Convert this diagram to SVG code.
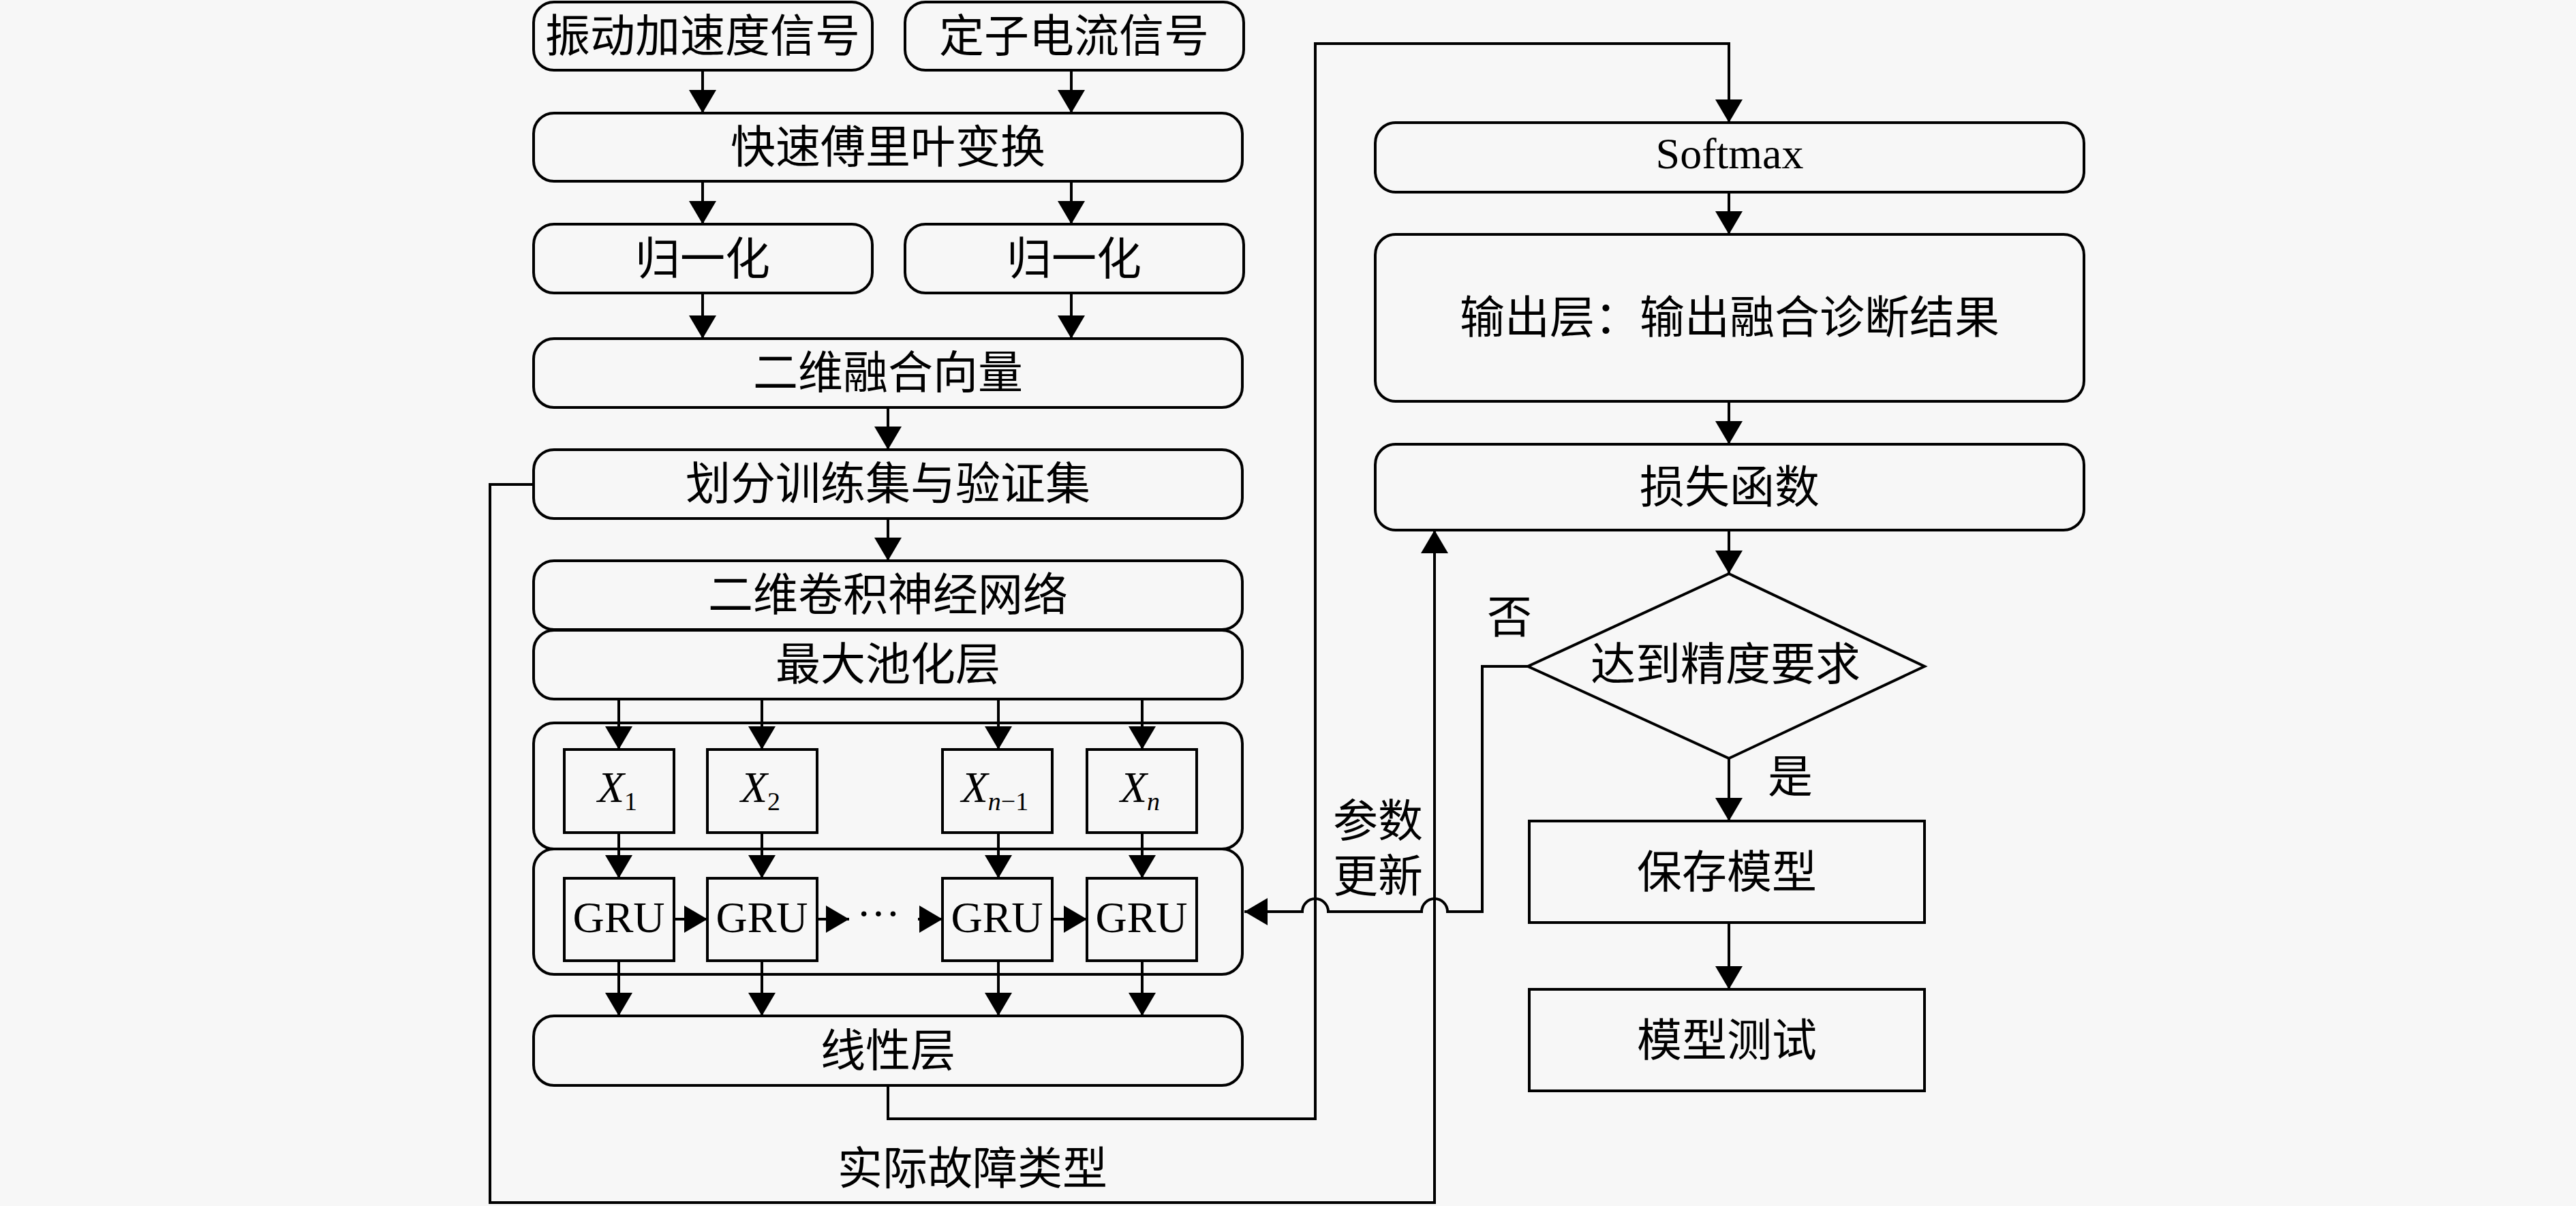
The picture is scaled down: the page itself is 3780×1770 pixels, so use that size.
<svg xmlns="http://www.w3.org/2000/svg" width="3780" height="1770" viewBox="0 0 3780 1770">
<defs>
<marker id="ah" markerUnits="userSpaceOnUse" markerWidth="34" markerHeight="40" refX="34" refY="20" orient="auto" viewBox="0 0 34 40">
<path d="M0,0 L34,20 L0,40 z" fill="#000"/>
</marker>
</defs>
<style>
.rb{fill:#f7f7f7;stroke:#000;stroke-width:4}
.sq{fill:#f7f7f7;stroke:#000;stroke-width:4}
.cj{font-family:"Liberation Serif","Noto Sans CJK SC",serif;font-size:66px;text-anchor:middle;dominant-baseline:central;fill:#000}
.lt{font-family:"Liberation Serif",serif;font-size:64px;text-anchor:middle;fill:#000}
.ln{fill:none;stroke:#000;stroke-width:4}
.ar{fill:none;stroke:#000;stroke-width:4;marker-end:url(#ah)}
</style>
<rect width="3780" height="1770" fill="#f7f7f7"/>

<g id="n1"><rect class="rb" x="783" y="3" width="497" height="100" rx="30"/><text class="cj" x="1031" y="53">振动加速度信号</text></g>
<g id="n2"><rect class="rb" x="1328" y="3" width="497" height="100" rx="30"/><text class="cj" x="1576" y="53">定子电流信号</text></g>
<g id="n3"><rect class="rb" x="783" y="166" width="1040" height="100" rx="30"/><text class="cj" x="1303" y="216">快速傅里叶变换</text></g>
<g id="n4"><rect class="rb" x="783" y="329" width="497" height="101" rx="30"/><text class="cj" x="1031" y="380">归一化</text></g>
<g id="n5"><rect class="rb" x="1328" y="329" width="497" height="101" rx="30"/><text class="cj" x="1576" y="380">归一化</text></g>
<g id="n6"><rect class="rb" x="783" y="497" width="1040" height="101" rx="30"/><text class="cj" x="1303" y="547">二维融合向量</text></g>
<g id="n7"><rect class="rb" x="783" y="660" width="1040" height="101" rx="30"/><text class="cj" x="1303" y="710">划分训练集与验证集</text></g>
<g id="n8"><rect class="rb" x="783" y="823" width="1040" height="101" rx="30"/><text class="cj" x="1303" y="873">二维卷积神经网络</text></g>
<g id="n9"><rect class="rb" x="783" y="925" width="1040" height="101" rx="30"/><text class="cj" x="1303" y="975">最大池化层</text></g>
<g id="xcont"><rect class="rb" x="783" y="1061" width="1040" height="185" rx="30"/></g>
<g id="gcont"><rect class="rb" x="783" y="1246" width="1040" height="184" rx="30"/></g>

<g id="x1"><rect class="sq" x="828" y="1100" width="161" height="122"/><text class="lt" x="906" y="1177"><tspan font-style="italic">X</tspan><tspan font-size="38" dy="12">1</tspan></text></g>
<g id="x2"><rect class="sq" x="1038" y="1100" width="161" height="122"/><text class="lt" x="1116" y="1177"><tspan font-style="italic">X</tspan><tspan font-size="38" dy="12">2</tspan></text></g>
<g id="xn1"><rect class="sq" x="1383" y="1100" width="161" height="122"/><text class="lt" x="1460" y="1177"><tspan font-style="italic">X</tspan><tspan font-size="38" dy="12" font-style="italic">n</tspan><tspan font-size="38">−1</tspan></text></g>
<g id="xn"><rect class="sq" x="1595" y="1100" width="161" height="122"/><text class="lt" x="1673" y="1177"><tspan font-style="italic">X</tspan><tspan font-size="38" dy="12" font-style="italic">n</tspan></text></g>

<g id="g1"><rect class="sq" x="828" y="1289" width="161" height="121"/><text class="lt" x="908" y="1368">GRU</text></g>
<g id="g2"><rect class="sq" x="1038" y="1289" width="161" height="121"/><text class="lt" x="1118" y="1368">GRU</text></g>
<g id="gn1"><rect class="sq" x="1383" y="1289" width="161" height="121"/><text class="lt" x="1463" y="1368">GRU</text></g>
<g id="gn"><rect class="sq" x="1595" y="1289" width="161" height="121"/><text class="lt" x="1675" y="1368">GRU</text></g>
<g id="dots"><text class="lt" x="1289" y="1362">···</text></g>

<g id="n10"><rect class="rb" x="783" y="1491" width="1040" height="102" rx="30"/><text class="cj" x="1303" y="1542">线性层</text></g>

<g id="n11"><rect class="rb" x="2018" y="180" width="1040" height="102" rx="30"/><text class="lt" x="2538" y="247" font-size="66">Softmax</text></g>
<g id="n12"><rect class="rb" x="2018" y="344" width="1040" height="245" rx="30"/><text class="cj" x="2538" y="466">输出层：输出融合诊断结果</text></g>
<g id="n13"><rect class="rb" x="2018" y="652" width="1040" height="126" rx="30"/><text class="cj" x="2538" y="715">损失函数</text></g>
<g id="n14"><polygon class="sq" points="2537,842 2824,978 2537,1113 2242,978"/><text class="cj" x="2532" y="975">达到精度要求</text></g>
<g id="n15"><rect class="sq" x="2244" y="1205" width="580" height="149"/><text class="cj" x="2534" y="1280">保存模型</text></g>
<g id="n16"><rect class="sq" x="2244" y="1452" width="580" height="149"/><text class="cj" x="2534" y="1527">模型测试</text></g>

<g id="labels">
<text class="cj" x="2215" y="906">否</text>
<text class="cj" x="2627" y="1140">是</text>
<text class="cj" x="2022" y="1205">参数</text>
<text class="cj" x="2022" y="1286">更新</text>
<text class="cj" x="1427" y="1715">实际故障类型</text>
</g>

<g id="connectors">
<path class="ar" d="M1031,103 V166"/>
<path class="ar" d="M1572,103 V166"/>
<path class="ar" d="M1031,266 V329"/>
<path class="ar" d="M1572,266 V329"/>
<path class="ar" d="M1031,430 V497"/>
<path class="ar" d="M1572,430 V497"/>
<path class="ar" d="M1303,598 V660"/>
<path class="ar" d="M1303,761 V823"/>
<path class="ar" d="M908,1026 V1100"/>
<path class="ar" d="M1118,1026 V1100"/>
<path class="ar" d="M1465,1026 V1100"/>
<path class="ar" d="M1676,1026 V1100"/>
<path class="ar" d="M908,1222 V1289"/>
<path class="ar" d="M1118,1222 V1289"/>
<path class="ar" d="M1465,1222 V1289"/>
<path class="ar" d="M1676,1222 V1289"/>
<path class="ar" d="M908,1410 V1491"/>
<path class="ar" d="M1118,1410 V1491"/>
<path class="ar" d="M1465,1410 V1491"/>
<path class="ar" d="M1676,1410 V1491"/>
<path class="ar" d="M989,1349 H1038"/>
<path class="ar" d="M1199,1349 H1246"/>
<path class="ar" d="M1347,1349 H1383"/>
<path class="ar" d="M1544,1349 H1595"/>
<path class="ar" d="M1303,1593 V1642 H1930 V64 H2537 V180"/>
<path class="ar" d="M783,711 H719 V1765 H2105 V778"/>
<path class="ar" d="M2242,978 H2175 V1338 H2124 A19,19 0 0 0 2086,1338 H1949 A19,19 0 0 0 1911,1338 H1826"/>
<path class="ar" d="M2537,282 V344"/>
<path class="ar" d="M2537,589 V652"/>
<path class="ar" d="M2537,778 V842"/>
<path class="ar" d="M2537,1113 V1205"/>
<path class="ar" d="M2537,1354 V1452"/>
</g>
</svg>
